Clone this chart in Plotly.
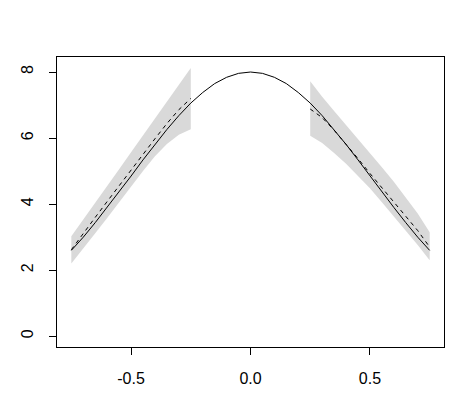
import plotly.graph_objects as go

# full curve (solid)
x_all = [-0.75, -0.70, -0.65, -0.60, -0.55, -0.50, -0.45, -0.40, -0.35, -0.30, -0.25,
         -0.20, -0.15, -0.10, -0.05, 0.00, 0.05, 0.10, 0.15, 0.20, 0.25,
         0.30, 0.35, 0.40, 0.45, 0.50, 0.55, 0.60, 0.65, 0.70, 0.75]
y_all = [2.60, 3.00, 3.44, 3.90, 4.37, 4.85, 5.34, 5.81, 6.26, 6.68, 7.06,
         7.38, 7.65, 7.84, 7.96, 8.00, 7.96, 7.84, 7.65, 7.38, 7.06,
         6.68, 6.26, 5.81, 5.34, 4.85, 4.37, 3.90, 3.44, 3.00, 2.60]

# left segment: estimate (dashed) and band
x_left = [-0.75, -0.70, -0.65, -0.60, -0.55, -0.50, -0.45, -0.40, -0.35, -0.30, -0.25]
est_left = [2.62, 3.12, 3.60, 4.08, 4.56, 5.04, 5.52, 5.98, 6.44, 6.86, 7.20]
hi_left = [3.03, 3.53, 4.04, 4.55, 5.06, 5.57, 6.08, 6.58, 7.09, 7.60, 8.12]
lo_left = [2.20, 2.66, 3.12, 3.58, 4.05, 4.52, 5.00, 5.45, 5.82, 6.10, 6.27]

# right segment
x_right = [0.25, 0.30, 0.35, 0.40, 0.45, 0.50, 0.55, 0.60, 0.65, 0.70, 0.75]
est_right = [6.88, 6.62, 6.24, 5.82, 5.38, 4.93, 4.50, 4.08, 3.66, 3.20, 2.70]
hi_right = [7.72, 7.25, 6.82, 6.40, 5.97, 5.55, 5.12, 4.68, 4.20, 3.72, 3.15]
lo_right = [6.07, 5.85, 5.55, 5.22, 4.86, 4.48, 4.06, 3.62, 3.20, 2.76, 2.30]

x_ticks = [-0.5, 0.0, 0.5]
x_ticklabels = ["-0.5", "0.0", "0.5"]
y_ticks = [0, 2, 4, 6, 8]

band_color = "#D9D9D9"

fig = go.Figure()

# bandas de confiança
for xs, lo, hi in [(x_left, lo_left, hi_left), (x_right, lo_right, hi_right)]:
    fig.add_trace(go.Scatter(
        x=xs + xs[::-1], y=hi + lo[::-1],
        fill="toself", fillcolor=band_color,
        mode="lines", line=dict(width=0, color=band_color),
        hoverinfo="skip", showlegend=False
    ))

# estimativas tracejadas
for xs, ys in [(x_left, est_left), (x_right, est_right)]:
    fig.add_trace(go.Scatter(
        x=xs, y=ys, mode="lines",
        line=dict(color="black", width=1, dash="4px,4px"),
        showlegend=False
    ))

# curva verdadeira
fig.add_trace(go.Scatter(
    x=x_all, y=y_all, mode="lines",
    line=dict(color="black", width=1),
    showlegend=False
))

axis_common = dict(
    showgrid=False, zeroline=False,
    showline=True, mirror=True, linecolor="black", linewidth=1,
    ticks="outside", ticklen=7, tickcolor="black", tickwidth=1,
    tickfont=dict(family="Liberation Sans, Arial", size=16, color="black"),
)

# a página tem 8px de margem no body, por isso a figura é 8px menor
fig.update_layout(
    width=456, height=397,
    margin=dict(l=49, r=20, t=49, b=58),
    plot_bgcolor="white", paper_bgcolor="white",
    xaxis=dict(range=[-0.81, 0.81], tickvals=x_ticks, ticktext=x_ticklabels,
               ticklabelstandoff=10, **axis_common),
    yaxis=dict(range=[-0.325, 8.455], tickvals=y_ticks, tickangle=-90,
               ticklabelstandoff=10, **axis_common),
)

fig.write_html("out.html")
